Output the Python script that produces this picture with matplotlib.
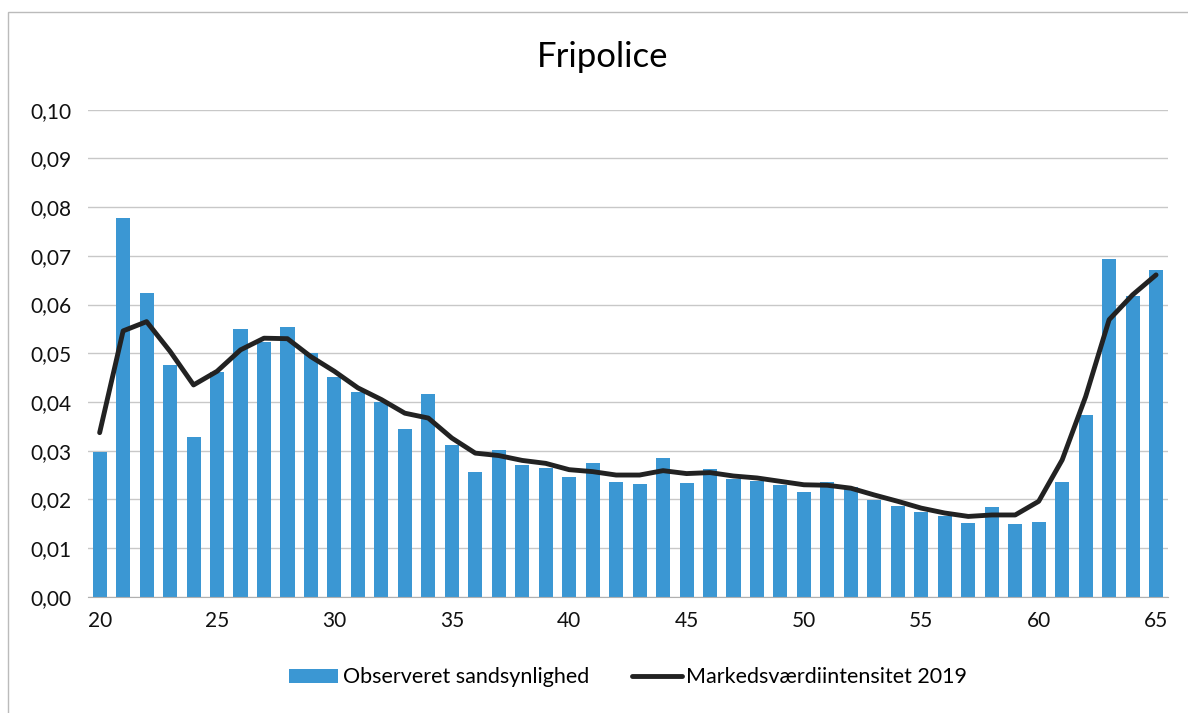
import matplotlib.pyplot as plt
import numpy as np
from matplotlib.patches import Rectangle

ages = list(range(20, 66))
observed = [0.0298, 0.0778, 0.0624, 0.0476, 0.0329, 0.0461, 0.0550, 0.0524, 0.0554, 0.0501,
            0.0452, 0.0420, 0.0401, 0.0345, 0.0417, 0.0312, 0.0257, 0.0302, 0.0271, 0.0264,
            0.0245, 0.0275, 0.0236, 0.0232, 0.0285, 0.0233, 0.0262, 0.0242, 0.0237, 0.0230,
            0.0216, 0.0236, 0.0226, 0.0199, 0.0187, 0.0175, 0.0165, 0.0151, 0.0185, 0.0150,
            0.0153, 0.0235, 0.0374, 0.0694, 0.0617, 0.0671]
intensity = [0.0337, 0.0546, 0.0565, 0.0504, 0.0435, 0.0463, 0.0507, 0.0531, 0.0530, 0.0493,
             0.0463, 0.0429, 0.0405, 0.0377, 0.0367, 0.0326, 0.0295, 0.0290, 0.0280, 0.0274,
             0.0261, 0.0257, 0.0250, 0.0250, 0.0259, 0.0253, 0.0255, 0.0248, 0.0244, 0.0237,
             0.0230, 0.0229, 0.0223, 0.0209, 0.0196, 0.0182, 0.0172, 0.0165, 0.0168, 0.0168,
             0.0196, 0.0281, 0.0411, 0.0569, 0.0620, 0.0661]
yticks = np.arange(0, 0.101, 0.01)

plt.rcParams['font.family'] = ['Lato', 'DejaVu Sans']

fig = plt.figure(figsize=(11.88, 7.13), dpi=100)
ax = fig.add_axes([0.074, 0.163, 0.909, 0.683])

bars = ax.bar(ages, observed, width=0.6, color='#3b97d3', label='Observeret sandsynlighed', zorder=2)
line, = ax.plot(ages, intensity, color='#222222', lw=3.5, solid_capstyle='round',
                label='Markedsværdiintensitet 2019', zorder=3)

ax.set_xlim(19.5, 65.5)
ax.set_ylim(0, 0.10)
ax.set_yticks(yticks)
ax.set_yticklabels([f'{v:.2f}'.replace('.', ',') for v in yticks])
ax.set_xticks(range(20, 66, 5))
ax.tick_params(axis='both', length=0, labelsize=15, colors='#111111')
ax.tick_params(axis='x', pad=10)
ax.tick_params(axis='y', pad=12)
ax.grid(axis='y', color='#c8c8c8', lw=1, zorder=0)
for s in ['top', 'right', 'left']:
    ax.spines[s].set_visible(False)
ax.spines['bottom'].set_color('#b0b0b0')

fig.text(0.507, 0.92, 'Fripolice', ha='center', va='center', fontsize=25)
ax.legend([bars, line], ['Observeret sandsynlighed', 'Markedsværdiintensitet 2019'],
          loc='upper center', bbox_to_anchor=(0.5, -0.105), ncol=2, frameon=False,
          fontsize=15.5, handlelength=2.3, handleheight=0.6, columnspacing=2.0, handletextpad=0.2)

fig.patches.append(Rectangle((0.007, -0.1), 1.2, 1.083, transform=fig.transFigure,
                             fill=False, edgecolor='#bbbbbb', lw=1))

fig.savefig('out.png', dpi=100)
